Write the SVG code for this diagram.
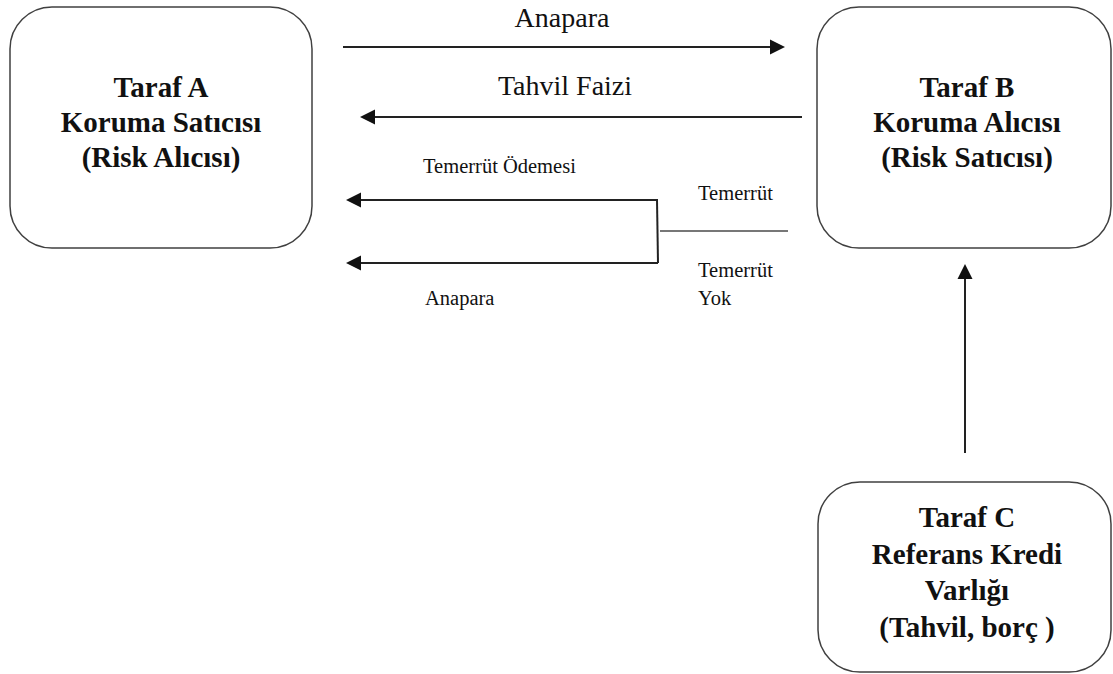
<svg xmlns="http://www.w3.org/2000/svg" width="1113" height="674" viewBox="0 0 1113 674">
<style>
.box{fill:#fff;stroke:#404040;stroke-width:1.5}
.nt{font-family:'Liberation Serif',serif;font-weight:bold;font-size:29px;fill:#111;text-anchor:middle}
.lb{font-family:'Liberation Serif',serif;fill:#111}
.ln{stroke:#222;stroke-width:2;fill:none}
.gl{stroke:#777;stroke-width:2;fill:none}
.hd{fill:#111}
</style>
<g id="nodeA">
<rect class="box" x="10" y="7" width="302" height="241" rx="42"/>
<text class="nt" font-family="Liberation Serif" x="161" y="97">Taraf A</text>
<text class="nt" font-family="Liberation Serif" x="161" y="132">Koruma Satıcısı</text>
<text class="nt" font-family="Liberation Serif" x="161" y="167">(Risk Alıcısı)</text>
</g>
<g id="nodeB">
<rect class="box" x="817" y="7" width="294" height="241" rx="42"/>
<text class="nt" font-family="Liberation Serif" x="967" y="97">Taraf B</text>
<text class="nt" font-family="Liberation Serif" x="967" y="132">Koruma Alıcısı</text>
<text class="nt" font-family="Liberation Serif" x="967" y="167">(Risk Satıcısı)</text>
</g>
<g id="nodeC">
<rect class="box" x="818" y="482" width="293" height="190" rx="42"/>
<text class="nt" font-family="Liberation Serif" x="967" y="527">Taraf C</text>
<text class="nt" font-family="Liberation Serif" x="967" y="564">Referans Kredi</text>
<text class="nt" font-family="Liberation Serif" x="967" y="600">Varlığı</text>
<text class="nt" font-family="Liberation Serif" x="967" y="637">(Tahvil, borç )</text>
</g>
<g id="connectors">
<line class="ln" x1="343" y1="47" x2="772" y2="47"/>
<polygon class="hd" points="785,47 770,39.5 770,54.5"/>
<line class="ln" x1="802" y1="117" x2="372" y2="117"/>
<polygon class="hd" points="360,117 375,109.5 375,124.5"/>
<line class="ln" x1="658" y1="200" x2="358" y2="200"/>
<polygon class="hd" points="346,200 361,192.5 361,207.5"/>
<line class="ln" x1="658" y1="263" x2="358" y2="263"/>
<polygon class="hd" points="346,263 361,255.5 361,270.5"/>
<line class="ln" x1="657" y1="200" x2="658" y2="263" stroke-width="1.5"/>
<line class="gl" x1="660" y1="231" x2="788" y2="231"/>
<line class="ln" x1="965" y1="453" x2="965" y2="278"/>
<polygon class="hd" points="965,264 957.5,279 972.5,279"/>
</g>
<g id="labels">
<text class="lb" font-family="Liberation Serif" x="562" y="27" font-size="28" text-anchor="middle">Anapara</text>
<text class="lb" font-family="Liberation Serif" x="565" y="95" font-size="28" text-anchor="middle">Tahvil Faizi</text>
<text class="lb" font-family="Liberation Serif" x="423" y="173" font-size="20.5">Temerrüt Ödemesi</text>
<text class="lb" font-family="Liberation Serif" x="698" y="200" font-size="20.5">Temerrüt</text>
<text class="lb" font-family="Liberation Serif" x="698" y="277" font-size="20.5">Temerrüt</text>
<text class="lb" font-family="Liberation Serif" x="698" y="305" font-size="20.5">Yok</text>
<text class="lb" font-family="Liberation Serif" x="425" y="305" font-size="20.5">Anapara</text>
</g>
</svg>
